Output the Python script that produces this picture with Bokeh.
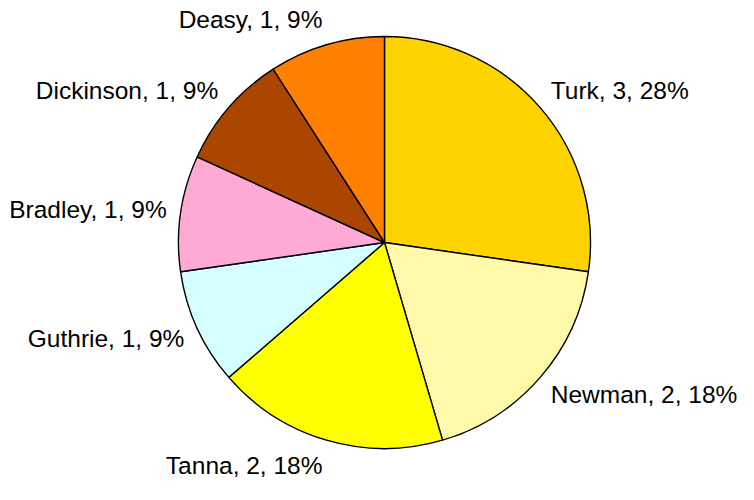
import math
from bokeh.plotting import figure
from bokeh.models import ColumnDataSource, Range1d
from bokeh.embed import file_html
from bokeh.resources import INLINE
from bokeh.core.properties import value

names = ["Turk", "Newman", "Tanna", "Guthrie", "Bradley", "Dickinson", "Deasy"]
counts = [3, 2, 2, 1, 1, 1, 1]
pcts = [28, 18, 18, 9, 9, 9, 9]
colors = ["#FFD300", "#FFFAAA", "#FFFF00", "#D5FFFF", "#FFAAD5", "#AA4600", "#FF7F00"]

W, H = 738, 484
cx, cy, r = 384, 242, 206
label_rx = 1.068 * r
label_ry = 1.127 * r

total = sum(counts)
starts, ends, lx, ly, aligns, labels = [], [], [], [], [], []
cum = 0
for n, c, pc in zip(names, counts, pcts):
    a0 = math.pi / 2 - 2 * math.pi * cum / total
    a1 = math.pi / 2 - 2 * math.pi * (cum + c) / total
    starts.append(a1)
    ends.append(a0)
    mid = (a0 + a1) / 2
    lx.append(cx + label_rx * math.cos(mid))
    ly.append(cy + label_ry * math.sin(mid))
    aligns.append("left" if math.cos(mid) >= 0 else "right")
    labels.append(f"{n}, {c}, {pc}%")
    cum += c

src = ColumnDataSource(dict(start=starts, end=ends, color=colors,
                            lx=lx, ly=ly, align=aligns, label=labels))

p = figure(width=W, height=H, x_range=Range1d(0, W), y_range=Range1d(0, H),
           output_backend="svg", toolbar_location=None, min_border=0)
p.axis.visible = False
p.grid.visible = False
p.outline_line_color = None
p.background_fill_color = "white"
p.border_fill_color = "white"

p.wedge(x=cx, y=cy, radius=r, start_angle="start", end_angle="end",
        direction="anticlock", fill_color="color", line_color="black",
        line_width=1.4, source=src)

p.text(x="lx", y="ly", text="label", text_align="align", text_baseline="middle",
       text_font=value("Liberation Sans"), text_font_size="24.5px",
       text_color="black", source=src)

open("out.html", "w").write(file_html(p, INLINE))
